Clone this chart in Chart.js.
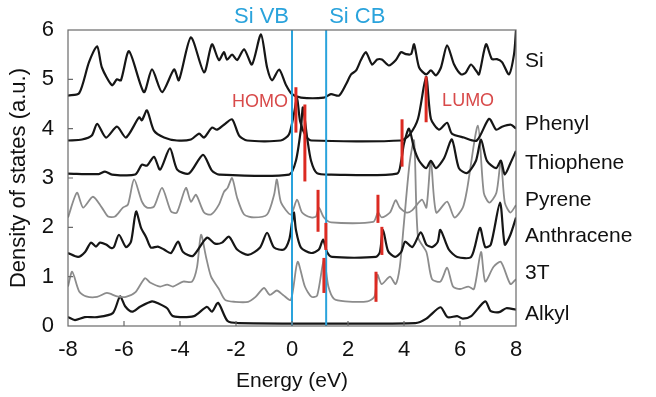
<!DOCTYPE html>
<html>
<head>
<meta charset="utf-8">
<script src="https://cdn.jsdelivr.net/npm/chart.js@4.4.1/dist/chart.umd.min.js"></script>
<style>
  html, body { margin: 0; padding: 0; background: #fff; }
  #wrap { width: 656px; height: 397px; }
</style>
</head>
<body>
<div id="wrap"><canvas id="dos" width="656" height="397"></canvas></div>
<script>
// ---- data: [energy (eV), density of states (a.u., offset)] ----
const siDos = [[-8,4.67],[-7.6,4.72],[-7.25,5.35],[-6.96,5.67],[-6.79,5.24],[-6.43,4.88],[-6.25,5.0],[-6.11,4.98],[-5.82,5.57],[-5.29,4.74],[-5.0,5.2],[-4.64,4.74],[-4.21,5.2],[-4.04,4.98],[-3.61,5.85],[-3.14,5.14],[-2.86,5.71],[-2.61,5.39],[-2.43,5.55],[-2.32,5.4],[-2.14,5.5],[-1.96,5.39],[-1.71,5.61],[-1.43,5.3],[-1.11,5.91],[-0.89,5.24],[-0.71,4.98],[-0.46,5.2],[-0.21,4.88],[0,4.7],[0.32,4.63],[1.14,4.63],[1.39,4.7],[1.68,4.67],[1.93,4.9],[2.11,5.1],[2.29,5.18],[2.46,5.39],[2.64,5.55],[2.86,5.3],[3.04,5.4],[3.21,5.4],[3.46,5.28],[3.71,5.39],[3.89,5.55],[4.07,5.51],[4.25,5.51],[4.36,5.71],[4.54,5.24],[4.79,5.1],[4.96,5.18],[5.14,5.08],[5.32,5.24],[5.54,5.69],[5.79,5.3],[6.04,5.1],[6.21,5.14],[6.39,5.3],[6.57,5.18],[6.68,5.1],[6.93,5.71],[7.14,5.41],[7.32,5.41],[7.5,5.35],[7.75,5.1],[7.93,5.51],[8,6.0]];
const phenylDos = [[-8,3.76],[-7.5,3.78],[-7.15,3.86],[-6.96,4.1],[-6.64,3.82],[-6.25,4.04],[-5.93,3.82],[-5.46,4.23],[-5.36,4.17],[-5.18,4.37],[-4.93,3.96],[-4.57,3.82],[-4.11,3.76],[-3.61,3.78],[-3.32,3.9],[-3.14,3.82],[-2.86,4.02],[-2.68,3.98],[-2.43,4.08],[-2.14,4.19],[-1.89,3.86],[-1.6,3.76],[-0.4,3.76],[-0.11,3.88],[0.07,4.3],[0.18,4.62],[0.29,4.15],[0.5,3.84],[0.7,3.76],[3.9,3.76],[4.2,3.88],[4.5,4.2],[4.79,5.05],[4.96,4.2],[5.25,3.98],[5.54,4.12],[5.71,3.9],[6.14,3.82],[6.6,3.76],[7.04,4.2],[7.29,3.98],[7.5,4.04],[7.82,4.08],[8,4.0]];
const thiopheneDos = [[-8,3.09],[-6.9,3.08],[-6.68,3.13],[-6.43,3.07],[-5.6,3.07],[-5.36,3.27],[-5.18,3.25],[-4.93,3.43],[-4.71,3.17],[-4.36,3.6],[-4.1,3.17],[-3.68,3.09],[-3.18,3.47],[-2.86,3.15],[-2.6,3.07],[-0.1,3.07],[0.14,3.35],[0.32,4.0],[0.39,4.43],[0.54,3.82],[0.68,3.35],[0.89,3.1],[1.4,3.07],[3.75,3.09],[3.9,3.35],[4.0,3.7],[4.18,4.0],[4.36,3.6],[4.54,3.35],[4.79,3.2],[4.96,3.35],[5.14,3.2],[5.43,3.4],[5.71,3.78],[5.96,3.2],[6.25,3.1],[6.57,3.35],[6.75,3.78],[6.96,3.35],[7.29,3.2],[7.46,3.35],[7.6,3.07],[7.8,3.3],[8,3.55]];
const pyreneDos = [[-8,2.2],[-7.68,2.7],[-7.46,2.4],[-7.11,2.62],[-6.79,2.4],[-6.57,2.22],[-6.32,2.22],[-6.04,2.4],[-5.86,2.46],[-5.64,2.97],[-5.36,2.52],[-5.18,2.4],[-4.93,2.42],[-4.64,2.8],[-4.32,2.32],[-4.11,2.3],[-3.79,2.8],[-3.61,2.52],[-3.43,2.66],[-3.14,2.3],[-2.89,2.26],[-2.61,2.46],[-2.43,2.72],[-2.3,2.8],[-2.14,3.0],[-1.96,2.6],[-1.71,2.26],[-1.36,2.2],[-0.89,2.26],[-0.64,2.66],[-0.54,2.97],[-0.39,2.5],[-0.04,2.26],[0.18,2.56],[0.36,2.3],[0.68,2.2],[0.86,2.22],[0.96,2.4],[1.14,2.2],[1.4,2.1],[2.9,2.11],[3.07,2.3],[3.2,2.2],[3.5,2.3],[3.7,2.55],[3.85,2.4],[4.1,2.3],[4.3,2.35],[4.64,2.56],[4.8,2.4],[4.96,3.35],[5.15,2.3],[5.54,2.52],[5.8,2.2],[6.1,2.4],[6.25,2.76],[6.64,4.06],[6.85,2.7],[7.05,2.5],[7.3,2.7],[7.46,3.35],[7.6,2.5],[7.8,2.3],[8,2.45]];
const anthraceneDos = [[-8,1.48],[-7.64,1.4],[-7.39,1.5],[-7.18,1.69],[-7.0,1.61],[-6.86,1.69],[-6.64,1.65],[-6.46,1.58],[-6.36,1.6],[-6.18,1.85],[-5.93,1.6],[-5.75,1.71],[-5.57,2.32],[-5.39,1.99],[-5.21,1.8],[-5.04,1.59],[-4.79,1.61],[-4.57,1.55],[-4.32,1.48],[-4.07,1.71],[-3.89,1.5],[-3.54,1.42],[-3.04,1.79],[-2.75,1.67],[-2.5,1.69],[-2.25,1.81],[-1.96,1.55],[-1.57,1.44],[-1.14,1.59],[-0.89,1.89],[-0.64,1.59],[-0.29,1.55],[-0.1,1.75],[0.0,2.1],[0.07,2.3],[0.14,1.95],[0.32,1.59],[0.68,1.48],[0.96,1.55],[1.11,1.75],[1.25,1.5],[1.43,1.4],[3.0,1.4],[3.14,1.5],[3.25,1.95],[3.43,1.52],[3.68,1.4],[3.9,1.5],[4.04,1.71],[4.3,1.6],[4.6,1.9],[4.8,1.65],[5.0,1.6],[5.2,1.7],[5.3,1.95],[5.6,1.55],[5.9,1.4],[6.4,1.4],[6.71,1.99],[6.9,1.6],[7.1,1.65],[7.43,2.5],[7.6,1.65],[7.8,1.85],[8,2.2]];
const t3Dos = [[-8,0.8],[-7.85,1.1],[-7.6,0.7],[-7.35,0.6],[-6.96,0.59],[-6.61,0.67],[-6.25,0.6],[-5.93,0.59],[-5.6,0.68],[-5.25,0.97],[-5.07,0.88],[-4.71,0.8],[-4.46,0.84],[-4.25,0.8],[-3.89,0.9],[-3.57,0.9],[-3.39,1.2],[-3.25,1.85],[-3.07,1.4],[-2.89,1.0],[-2.61,0.75],[-2.39,0.53],[-2.04,0.49],[-1.57,0.49],[-1.3,0.59],[-1.0,0.77],[-0.79,0.63],[-0.54,0.72],[-0.32,0.63],[-0.04,0.53],[0.2,1.3],[0.46,0.8],[0.7,0.59],[0.9,0.62],[1.14,1.34],[1.3,0.8],[1.5,0.55],[1.9,0.5],[2.7,0.5],[2.95,0.6],[3.05,1.04],[3.2,0.85],[3.5,1.0],[3.7,0.85],[3.85,1.2],[4.0,2.1],[4.2,3.3],[4.36,3.76],[4.5,1.8],[4.8,1.5],[5.0,0.95],[5.3,0.9],[5.54,1.18],[5.75,0.8],[6.0,0.75],[6.3,0.8],[6.5,0.75],[6.75,1.5],[6.9,0.9],[7.2,1.2],[7.46,1.3],[7.8,0.85],[8,0.95]];
const alkylDos = [[-8,0.18],[-7.75,0.12],[-7.4,0.18],[-6.96,0.18],[-6.4,0.26],[-6.14,0.6],[-5.96,0.4],[-5.71,0.29],[-5.43,0.39],[-5.0,0.5],[-4.75,0.45],[-4.46,0.36],[-4.25,0.2],[-3.5,0.2],[-3.04,0.39],[-2.86,0.29],[-2.64,0.47],[-2.3,0.1],[-1.9,0.06],[4.4,0.06],[4.8,0.15],[5.3,0.38],[5.55,0.18],[5.9,0.2],[6.1,0.15],[6.4,0.2],[6.9,0.5],[7.1,0.3],[7.4,0.28],[7.65,0.36],[8,0.33]];

const seriesNames = ['Si', 'Phenyl', 'Thiophene', 'Pyrene', 'Anthracene', '3T', 'Alkyl'];
const seriesLabelY = [5.37, 4.09, 3.31, 2.56, 1.83, 1.08, 0.24];

// HOMO / LUMO markers per molecule (energy, bottom, top)
const homoE  = [0.14, 0.46, 0.93, 1.21, 1.14];
const homoLo = [3.92, 2.93, 1.91, 1.54, 0.67];
const homoHi = [4.84, 4.49, 2.76, 2.09, 1.38];
const lumoE  = [4.79, 3.93, 3.07, 3.21, 3.00];
const lumoLo = [4.13, 3.23, 2.09, 1.44, 0.49];
const lumoHi = [5.06, 4.19, 2.66, 2.01, 1.10];

// silicon band edges
const bandEdgeE = [0.0, 1.22];
const bandEdgeNames = ['Si VB', 'Si CB'];

const xTicks = [-8, -6, -4, -2, 0, 2, 4, 6, 8];
const yTicks = [0, 1, 2, 3, 4, 5, 6];

const FONT = "'Liberation Sans', Arial, Helvetica, sans-serif";
const BLACK = '#161616';
const GREY = '#8c8c8c';
const RED = '#dc2a22';
const BLUE = '#2aa3dc';

const toXY = arr => arr.map(p => ({ x: p[0], y: p[1] }));

function curve(data, color, width) {
    return { data: toXY(data), borderColor: color, borderWidth: width, pointRadius: 0, tension: 0.25, fill: false, order: 2 };
}

const datasets = [
    curve(siDos, BLACK, 2.2),
    curve(phenylDos, BLACK, 2.2),
    curve(thiopheneDos, BLACK, 2.2),
    curve(pyreneDos, GREY, 1.8),
    curve(anthraceneDos, BLACK, 2.2),
    curve(t3Dos, GREY, 1.8),
    curve(alkylDos, BLACK, 2.2)
];

bandEdgeE.forEach(e => {
    datasets.push({ data: [{ x: e, y: 0 }, { x: e, y: 6 }], borderColor: BLUE, borderWidth: 2, pointRadius: 0, order: 1 });
});
homoE.forEach((e, i) => {
    datasets.push({ data: [{ x: e, y: homoLo[i] }, { x: e, y: homoHi[i] }], borderColor: RED, borderWidth: 3, pointRadius: 0, order: 0 });
    datasets.push({ data: [{ x: lumoE[i], y: lumoLo[i] }, { x: lumoE[i], y: lumoHi[i] }], borderColor: RED, borderWidth: 3, pointRadius: 0, order: 0 });
});

// ── frame, inward ticks and text labels ──────────
const decorations = {
    id: 'decorations',
    afterDraw(chart) {
        const { ctx, chartArea: a, scales: { x, y } } = chart;
        ctx.save();
        ctx.strokeStyle = '#6a6a6a';
        ctx.lineWidth = 1.2;
        ctx.strokeRect(a.left, a.top, a.right - a.left, a.bottom - a.top);
        ctx.beginPath();
        xTicks.slice(1, -1).forEach(v => {
            const px = x.getPixelForValue(v);
            ctx.moveTo(px, a.bottom); ctx.lineTo(px, a.bottom - 5);
        });
        yTicks.slice(1, -1).forEach(v => {
            const py = y.getPixelForValue(v);
            ctx.moveTo(a.left, py); ctx.lineTo(a.left + 5, py);
        });
        ctx.stroke();

        ctx.fillStyle = '#111';
        ctx.font = '21px ' + FONT;
        ctx.textAlign = 'left';
        ctx.textBaseline = 'middle';
        seriesNames.forEach((n, i) => ctx.fillText(n, a.right + 9, y.getPixelForValue(seriesLabelY[i])));

        ctx.fillStyle = BLUE;
        ctx.font = '22px ' + FONT;
        ctx.textAlign = 'right';
        ctx.fillText(bandEdgeNames[0], x.getPixelForValue(bandEdgeE[0]) - 3, 17);
        ctx.textAlign = 'left';
        ctx.fillText(bandEdgeNames[1], x.getPixelForValue(bandEdgeE[1]) + 3, 17);

        ctx.fillStyle = '#d84a4a';
        ctx.font = '18px ' + FONT;
        ctx.textAlign = 'center';
        ctx.fillText('HOMO', x.getPixelForValue(-1.14), y.getPixelForValue(4.53));
        ctx.fillText('LUMO', x.getPixelForValue(6.29), y.getPixelForValue(4.57));
        ctx.restore();
    }
};

new Chart(document.getElementById('dos'), {
    type: 'line',
    data: { datasets },
    options: {
        responsive: false,
        animation: false,
        layout: { padding: { left: 0, right: 140, top: 30, bottom: 0 } },
        plugins: { legend: { display: false }, tooltip: { enabled: false } },
        scales: {
            x: {
                type: 'linear', min: -8, max: 8,
                afterFit: s => { s.height = 71; },
                afterBuildTicks: s => { s.ticks = xTicks.map(v => ({ value: v })); },
                grid: { display: false }, border: { display: false },
                ticks: { color: '#111', font: { family: FONT, size: 22 }, padding: 3, maxRotation: 0 },
                title: { display: true, text: 'Energy (eV)', color: '#111', font: { family: FONT, size: 21 }, padding: { top: 0, bottom: 3 } }
            },
            y: {
                type: 'linear', min: 0, max: 6,
                afterFit: s => { s.width = 68; },
                afterBuildTicks: s => { s.ticks = yTicks.map(v => ({ value: v })); },
                grid: { display: false }, border: { display: false },
                ticks: { color: '#111', font: { family: FONT, size: 22 }, padding: 6 },
                title: { display: true, text: 'Density of states (a.u.)', color: '#111', font: { family: FONT, size: 22 }, padding: { top: 6, bottom: 0 } }
            }
        }
    },
    plugins: [decorations]
});
</script>
</body>
</html>
